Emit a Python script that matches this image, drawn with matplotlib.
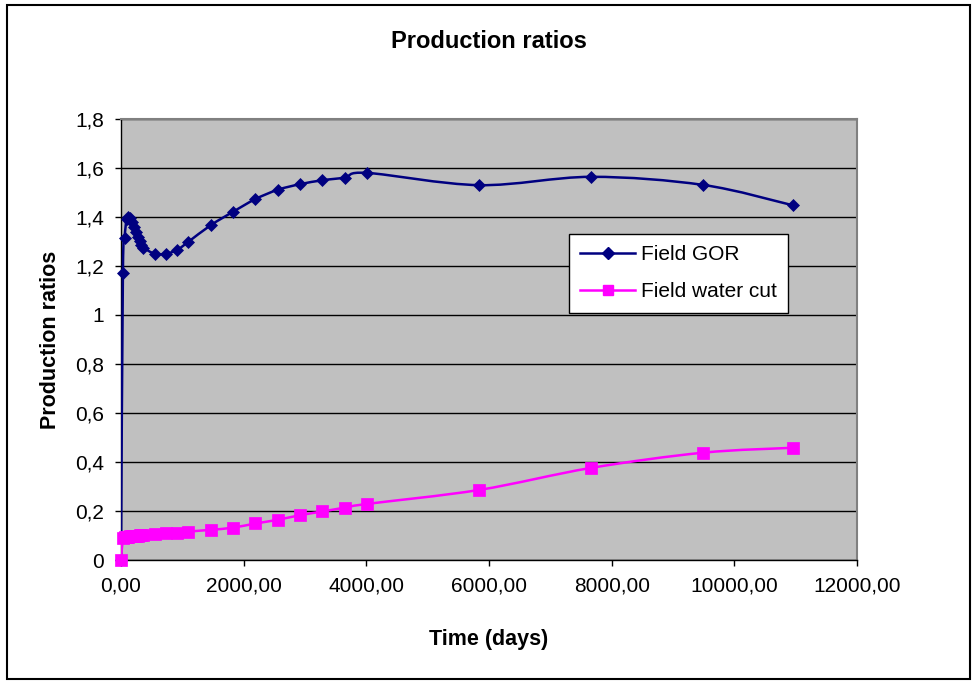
import numpy as np
import matplotlib
matplotlib.use("Agg")
import matplotlib.pyplot as plt
from matplotlib.path import Path
from matplotlib.patches import PathPatch, Rectangle
from matplotlib.lines import Line2D

# Simulation report times (days) and field production ratios
time_days = [0, 31, 59, 90, 120, 151, 181, 212, 243, 273, 304, 334, 365,
             547, 730, 912, 1095, 1460, 1825, 2190, 2555, 2920, 3285, 3650,
             4015, 5840, 7665, 9490, 10950]
field_gor = [0.0, 1.17, 1.315, 1.39, 1.40, 1.395, 1.38, 1.36, 1.34, 1.32,
             1.30, 1.285, 1.275, 1.25, 1.25, 1.265, 1.298, 1.366, 1.421,
             1.473, 1.511, 1.534, 1.550, 1.561, 1.580, 1.530, 1.564, 1.531,
             1.448]
field_water_cut = [0.0, 0.088, 0.092, 0.094, 0.095, 0.096, 0.097, 0.098,
                   0.099, 0.100, 0.101, 0.102, 0.103, 0.108, 0.109, 0.110,
                   0.116, 0.123, 0.132, 0.149, 0.164, 0.183, 0.198, 0.214,
                   0.229, 0.286, 0.376, 0.438, 0.458]

x_ticks = [0, 2000, 4000, 6000, 8000, 10000, 12000]
x_tick_labels = ["0,00", "2000,00", "4000,00", "6000,00", "8000,00",
                 "10000,00", "12000,00"]
y_ticks = [0, 0.2, 0.4, 0.6, 0.8, 1.0, 1.2, 1.4, 1.6, 1.8]
y_tick_labels = ["0", "0,2", "0,4", "0,6", "0,8", "1", "1,2", "1,4", "1,6",
                 "1,8"]

series_names = ["Field GOR", "Field water cut"]

plt.rcParams['font.family'] = ['Liberation Sans', 'DejaVu Sans']

GOR_COLOR = '#000080'
WCUT_COLOR = '#FF00FF'


def smooth_path(x, y):
    """Cubic Bezier path through the points (Catmull-Rom style smoothing)."""
    pts = np.column_stack([x, y]).astype(float)
    n = len(pts)
    verts = [pts[0]]
    codes = [Path.MOVETO]
    for i in range(n - 1):
        p0 = pts[max(i - 1, 0)]
        p1 = pts[i]
        p2 = pts[i + 1]
        p3 = pts[min(i + 2, n - 1)]
        c1 = p1 + (p2 - p0) / 6.0
        c2 = p2 - (p3 - p1) / 6.0
        verts += [c1, c2, p2]
        codes += [Path.CURVE4] * 3
    return Path(verts, codes)


W, H = 975, 681
fig = plt.figure(figsize=(W / 100, H / 100), dpi=100)
fig.patch.set_facecolor('white')

# chart border
fig.add_artist(Rectangle((7 / W, 1 - 679 / H), (970 - 7) / W, (679 - 5) / H,
                         transform=fig.transFigure, fill=False,
                         edgecolor='black', lw=1.5))

ax = fig.add_axes([121 / W, 1 - 560 / H, (857 - 121) / W, (560 - 119) / H])
ax.set_facecolor('#C0C0C0')
ax.set_xlim(0, 12000)
ax.set_ylim(0, 1.8)

ax.set_axisbelow(True)
ax.yaxis.grid(True, color='black', lw=1.0)
ax.xaxis.grid(False)

for side in ('left', 'bottom'):
    ax.spines[side].set_color('black')
    ax.spines[side].set_linewidth(1.0)
for side in ('top', 'right'):
    ax.spines[side].set_color('#808080')
    ax.spines[side].set_linewidth(1.5)

ax.set_xticks(x_ticks)
ax.set_xticklabels(x_tick_labels)
ax.set_yticks(y_ticks)
ax.set_yticklabels(y_tick_labels)
ax.tick_params(axis='both', direction='out', length=4, width=1,
               color='black', labelsize=15)
ax.tick_params(axis='x', pad=8)
ax.tick_params(axis='y', pad=8)

# smoothed series lines
ax.add_patch(PathPatch(smooth_path(time_days, field_gor), fill=False,
                       edgecolor=GOR_COLOR, lw=1.8, zorder=3))
ax.plot(time_days, field_gor, ls='none', marker='D', ms=6.4,
        color=GOR_COLOR, mec=GOR_COLOR, mew=0.5, zorder=4, clip_on=False)

ax.add_patch(PathPatch(smooth_path(time_days, field_water_cut), fill=False,
                       edgecolor=WCUT_COLOR, lw=1.8, zorder=5))
ax.plot(time_days, field_water_cut, ls='none', marker='s', ms=8,
        color=WCUT_COLOR, mec=WCUT_COLOR, mew=0.5, zorder=6, clip_on=False)

handles = [
    Line2D([], [], color=GOR_COLOR, lw=1.8, marker='D', ms=6.2),
    Line2D([], [], color=WCUT_COLOR, lw=1.8, marker='s', ms=7.5),
]
leg = ax.legend(handles, series_names, loc='upper left',
                bbox_to_anchor=(569 / W, 1 - 234 / H),
                bbox_transform=fig.transFigure, borderaxespad=0,
                fontsize=15, frameon=True, fancybox=False, shadow=False,
                handlelength=2.6, handletextpad=0.3, borderpad=0.55,
                labelspacing=0.85)
leg.get_frame().set_edgecolor('black')
leg.get_frame().set_linewidth(1.0)
leg.get_frame().set_facecolor('white')
leg.get_frame().set_alpha(1.0)

fig.text(489 / W, 1 - 42 / H, "Production ratios", ha='center', va='center',
         fontsize=17, fontweight='bold')
ax.set_xlabel("Time (days)", fontsize=15.5, fontweight='bold', labelpad=24)
ax.set_ylabel("Production ratios", fontsize=15.5, fontweight='bold',
              labelpad=10)

fig.savefig("out.png", dpi=100, facecolor='white')
